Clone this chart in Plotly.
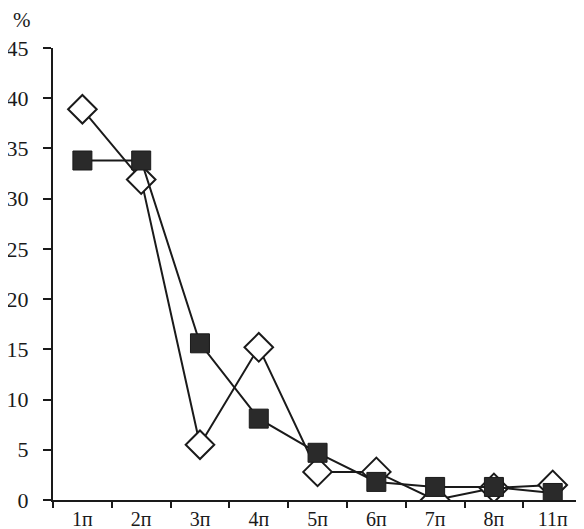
import plotly.graph_objects as go

categories = ["1п", "2п", "3п", "4п", "5п", "6п", "7п", "8п", "11п"]
squares = [33.8, 33.8, 15.6, 8.1, 4.7, 1.8, 1.3, 1.3, 0.7]
diamonds = [38.9, 31.9, 5.5, 15.2, 2.8, 2.8, 0.0, 1.2, 1.5]

fig = go.Figure()

fig.add_trace(go.Scatter(
    x=categories, y=diamonds, mode="lines+markers",
    line=dict(color="#1a1a1a", width=2),
    marker=dict(symbol="diamond", size=22, color="white",
                line=dict(color="#1a1a1a", width=2)),
    showlegend=False
))
fig.add_trace(go.Scatter(
    x=categories, y=squares, mode="lines+markers",
    line=dict(color="#1a1a1a", width=2),
    marker=dict(symbol="square", size=19, color="#2a2a2a",
                line=dict(color="#1a1a1a", width=1)),
    showlegend=False
))

fig.update_layout(
    width=584, height=529,
    margin=dict(l=45, r=4, t=40, b=37),
    paper_bgcolor="white", plot_bgcolor="white",
    font=dict(family="Liberation Serif", size=22, color="#1a1a1a"),
    annotations=[dict(text="%", x=0, y=1, xref="paper", yref="paper",
                      xanchor="left", yanchor="bottom", xshift=-42, yshift=14,
                      showarrow=False, font=dict(size=21))]
)
fig.update_xaxes(
    type="category", range=[-0.5, 8.6], tickson="boundaries",
    ticks="outside", ticklen=6, tickwidth=2, tickcolor="#1a1a1a",
    showline=True, linecolor="#1a1a1a", linewidth=2, tickfont=dict(size=20),
    showgrid=False, zeroline=False, ticklabelstandoff=0, automargin=False
)
fig.update_yaxes(
    range=[0, 45], tickvals=list(range(0, 46, 5)),
    ticks="outside", ticklen=8, tickwidth=2, tickcolor="#1a1a1a",
    showline=True, linecolor="#1a1a1a", linewidth=2,
    showgrid=False, zeroline=False, ticklabelstandoff=10, automargin=False
)

fig.write_html("out.html")
